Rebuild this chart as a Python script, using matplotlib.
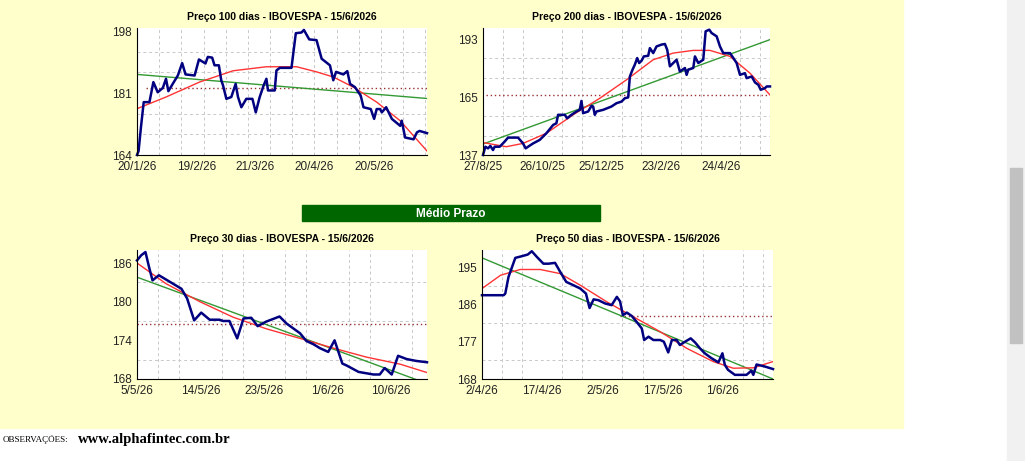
import matplotlib
matplotlib.use("Agg")
import matplotlib.pyplot as plt
import numpy as np
from matplotlib.patches import Rectangle

plt.rcParams['font.family'] = ['Liberation Sans', 'DejaVu Sans']

# ---------- data (x = days since first date) ----------
tl_title = "Preço 100 dias - IBOVESPA - 15/6/2026"
tl_x = [0,0.8,2.0,3.4,6.3,8.3,10.5,13.1,14.7,15.9,18.1,20.7,22.9,24.6,29.2,31.4,34.7,35.9,38.1,39.3,41.5,42.7,43.6,45.3,47.8,50.0,51.2,52.9,55.4,58.5,60.2,62.2,64.2,65.6,66.4,69.8,70.7,72.4,78.3,80.5,83.4,84.6,87.3,91.0,93.6,97.8,99.5,100.9,104.6,106.6,108.0,110.5,113.4,114.8,118.5,120.2,121.5,123.2,124.1,126.3,129.2,133.4,134.2,135.9,140.2,141.9,143.2,147.0]
tl_y = [164.0,165.1,171.6,178.5,178.5,184.0,181.2,182.4,184.9,181.5,183.5,185.8,189.2,186.1,185.8,190.2,189.1,190.9,190.7,188.6,188.6,184.5,183.1,179.4,179.9,183.5,179.9,177.1,179.4,179.4,175.7,179.9,183.1,184.9,181.7,181.7,187.2,187.9,187.9,197.4,197.6,198.3,195.7,195.5,190.4,188.6,184.5,186.8,186.1,187.0,183.5,182.6,180.3,177.1,176.6,173.9,176.6,176.6,175.7,177.1,173.9,172.0,173.4,168.8,168.3,170.2,170.6,170.0]
tl_rx = [0,14.7,31.7,48.7,65.6,80.9,91,99.5,109.7,121.5,133.4,147]
tl_ry = [176.7,179.9,184.0,187.1,188.2,188.2,186.8,185.4,182.6,178.5,173.4,165.1]
tl_gx = [0,147]; tl_gy = [186.1,179.5]
tl_avg = 182.4; tl_avg_x = [4.5,147]
tl_ticks = [0,30,60,90,120]; tl_labels = ["20/1/26","19/2/26","21/3/26","20/4/26","20/5/26"]
tl_yticks = [164,181,198]

tr_title = "Preço 200 dias - IBOVESPA - 15/6/2026"
tr_x = [0,2.4,5.1,7.4,10.1,11.8,16.9,21.9,25.3,35.4,40.4,43.1,45.5,50.6,57.3,64.0,70.8,74.1,75.8,82.6,84.9,89.3,94.4,97.7,99.4,101.1,106.2,109.5,111.2,112.9,114.6,121.3,129.7,134.8,139.9,143.2,146.6,148.3,151.0,153.3,155.7,157.7,160.1,162.4,166.8,168.5,171.9,175.2,180.3,183.7,186.0,188.7,192.1,195.5,198.8,203.9,205.6,207.3,212.3,214.0,217.4,222.4,224.8,228.5,230.8,235.9,239.3,242.6,249.4,252.8,256.1,259.5,264.5,266.2,271.3,274.7,278.0,280.4,284.8,286.5,289.8]
tr_y = [137.0,141.0,140.2,141.4,139.4,141.0,141.0,143.5,145.4,145.4,142.6,140.2,141.0,142.6,144.3,147.5,151.5,152.3,156.4,156.4,154.7,156.4,158.0,158.8,163.1,157.2,158.0,160.7,160.4,156.4,158.0,158.8,160.4,162.0,162.8,164.4,164.8,174.9,178.2,180.6,183.8,181.4,182.5,184.6,184.9,188.6,186.2,189.4,190.3,190.6,187.8,179.8,181.4,183.0,177.3,179.0,175.7,178.2,179.0,184.6,181.4,183.0,196.7,197.5,195.9,194.3,189.4,186.2,186.2,183.8,181.4,175.7,176.5,174.1,174.9,172.0,170.9,168.5,169.3,170.1,170.1]
tr_rx = [0,23.6,40.4,64.0,91.0,118,144.9,171.9,192.1,212.3,229.2,249.4,269.6,289.8]
tr_ry = [143.0,141.0,142.6,147.5,156.4,164.4,173.3,183.0,186.2,187.5,187.5,184.6,176.5,166.0]
tr_gx = [0,289.8]; tr_gy = [142.3,192.7]
tr_avg = 166.0; tr_avg_x = [3,289.8]
tr_ticks = [0,60,120,180,240]; tr_labels = ["27/8/25","26/10/25","25/12/25","23/2/26","24/4/26"]
tr_yticks = [137,165,193]

bl_title = "Preço 30 dias - IBOVESPA - 15/6/2026"
bl_x = [0,0.6,1.2,1.7,2.2,3.1,6.3,7.1,8.1,9.1,10.3,11.7,12.2,13.1,14.2,15.1,16.2,17.1,18.3,20.2,21.2,23.1,24.0,25.0,25.9,27.1,28.0,29.1,29.7,31.4,33.5,34.4,35.1,36.1,37.0,38.2,39.6,41.1]
bl_y = [186.4,187.2,187.7,185.4,183.3,184.1,182.0,180.5,177.1,178.3,177.2,177.2,177.0,177.0,174.3,177.4,177.5,176.2,176.9,177.7,176.6,175.1,173.9,173.4,172.8,172.2,174.0,170.4,170.1,169.1,168.7,168.7,169.7,168.7,171.6,171.1,170.8,170.6]
bl_rx = [0,4.1,8.9,13.6,18.3,23.1,27.8,32.5,37.3,41.1]
bl_ry = [186.0,182.8,180.0,177.6,175.8,174.3,172.8,171.4,170.3,169.0]
bl_gx = [0,41.1]; bl_gy = [183.8,167.3]
bl_avg = 176.5; bl_avg_x = [0,41.1]
bl_ticks = [0,9,18,27,36]; bl_labels = ["5/5/26","14/5/26","23/5/26","1/6/26","10/6/26"]
bl_yticks = [168,174,180,186]

br_title = "Preço 50 dias - IBOVESPA - 15/6/2026"
br_x = [0,5.4,5.8,6.6,8.3,9.9,11.4,12.4,13.7,15.3,16.6,18.2,19.5,21.0,22.8,24.5,25.9,26.8,27.8,29.0,30.7,32.3,33.6,34.4,35.1,36.1,37.3,38.5,39.8,40.4,41.5,42.7,44.4,45.3,46.4,47.3,48.5,49.3,50.6,52.0,53.1,54.3,55.5,57.2,58.9,59.9,60.5,61.3,63.0,65.9,67.1,67.6,68.4,70.5,72.5]
br_y = [188.2,188.2,188.6,192.6,197.2,197.6,198.0,198.8,197.4,195.8,195.8,196.0,193.8,191.4,190.6,189.8,188.6,185.1,187.2,187.0,186.2,185.8,187.8,186.7,183.4,184.0,183.2,181.8,180.2,177.4,178.2,177.4,177.4,177.0,174.4,177.4,177.4,176.2,177.0,177.8,176.8,175.4,174.2,173.0,172.0,174.2,171.4,170.2,169.0,169.0,170.0,169.0,171.5,171.0,170.4]
br_rx = [0,4.6,9.5,14.5,19.5,24.5,31.1,37.7,44.4,51.0,57.6,62.6,67.6,72.5]
br_ry = [189.8,193.0,194.4,194.4,193.4,190.6,186.6,183.0,179.4,175.4,172.2,170.6,170.7,172.2]
br_gx = [0,72.5]; br_gy = [197.2,168.0]
br_avg = 183.2; br_avg_x = [34.4,72.5]
br_ticks = [0,15,30,45,60]; br_labels = ["2/4/26","17/4/26","2/5/26","17/5/26","1/6/26"]
br_yticks = [168,177,186,195]

W, H = 1025, 461
fig = plt.figure(figsize=(W/100, H/100), dpi=100)
fig.patch.set_facecolor("white")

def px(x0, y0, x1, y1):
    return [x0/W, 1 - y1/H, (x1-x0)/W, (y1-y0)/H]

bg = fig.add_axes([0, 0, 1, 1], zorder=-10)
bg.set_xlim(0, W); bg.set_ylim(H, 0); bg.axis("off")
bg.add_patch(Rectangle((0, 0), 903, 428, color="#FFFFCC"))
bg.add_patch(Rectangle((1007, 0), 18, H, color="#F1F1F1"))
bg.add_patch(Rectangle((1010, 168), 12, 175, color="#C1C1C1"))
bg.add_patch(Rectangle((302, 205), 298, 16, color="#006600"))
bg.text(451, 213.5, "Médio Prazo", color="white", fontsize=8.5, fontweight="bold", ha="center", va="center")
bg.text(3, 440, "OBSERVAÇÕES:", fontsize=6.5, family="Liberation Serif", va="center")
bg.text(78, 439, "www.alphafintec.com.br", fontsize=10.5, family="Liberation Serif", fontweight="bold", va="center")

def panel(rect, title, x, y, rx, ry, gx, gy, avg, avgx, ticks, labels, yticks, ylim, xmax, xgrid, ygrid):
    ax = fig.add_axes(rect)
    ax.set_facecolor("white")
    ax.set_xlim(0, xmax); ax.set_ylim(*ylim)
    ax.set_xticks(np.arange(0, xmax + 0.01, xgrid), minor=True)
    ax.set_yticks(np.arange(yticks[0], ylim[1], ygrid), minor=True)
    ax.grid(which="minor", color="#C8C8C8", linestyle=(0, (3, 3)), linewidth=0.7)
    ax.set_xticks(ticks); ax.set_xticklabels(labels)
    ax.set_yticks(yticks); ax.set_yticklabels([str(v) for v in yticks])
    ax.tick_params(which="both", length=0, labelsize=8.5, pad=4, colors="#222222")
    for s in ["top", "right"]:
        ax.spines[s].set_visible(False)
    for s in ["left", "bottom"]:
        ax.spines[s].set_color("black"); ax.spines[s].set_linewidth(0.8)
    ax.plot(avgx, [avg, avg], color="#993333", linestyle=(0, (1, 2)), linewidth=1)
    ax.plot(gx, gy, color="#339933", linewidth=1)
    ax.plot(rx, ry, color="#FF3333", linewidth=1)
    ax.plot(x, y, color="#000080", linewidth=1.8, clip_on=False)
    ax.set_title(title, fontsize=7.5, fontweight="bold", pad=6)
    return ax

panel(px(137, 28, 427, 155), tl_title, tl_x, tl_y, tl_rx, tl_ry, tl_gx, tl_gy, tl_avg, tl_avg_x,
      tl_ticks, tl_labels, tl_yticks, (164, 198 + 34*3/123), 147, 11.24, 34/6)
panel(px(483, 28, 770, 155), tr_title, tr_x, tr_y, tr_rx, tr_ry, tr_gx, tr_gy, tr_avg, tr_avg_x,
      tr_ticks, tr_labels, tr_yticks, (137, 193 + 56*11/116), 289.8, 20, 56/6)
panel(px(137, 250, 427, 379), bl_title, bl_x, bl_y, bl_rx, bl_ry, bl_gx, bl_gy, bl_avg, bl_avg_x,
      bl_ticks, bl_labels, bl_yticks, (168, 186 + 18*13/116), 41.1, 3, 3)
panel(px(482, 250, 773, 379), br_title, br_x, br_y, br_rx, br_ry, br_gx, br_gy, br_avg, br_avg_x,
      br_ticks, br_labels, br_yticks, (168, 195 + 27*17/112), 72.5, 5, 4.5)

fig.savefig("out.png", dpi=100, facecolor="white")
